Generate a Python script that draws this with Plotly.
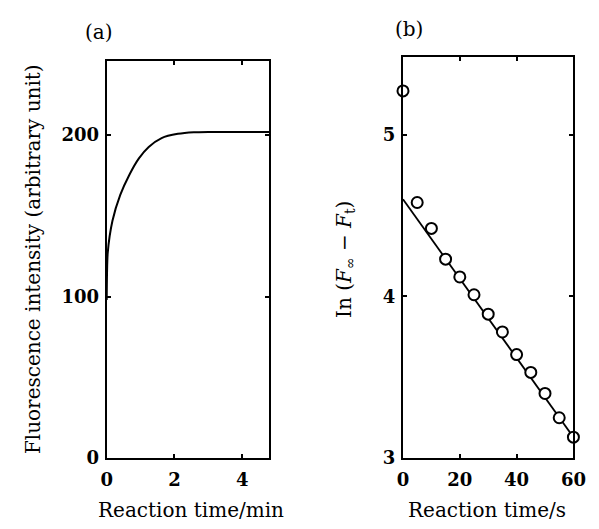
import plotly.graph_objects as go

# Panel (a): fluorescence intensity vs reaction time (min)
time_min = [0.0, 0.03, 0.17, 0.4, 0.67, 0.95, 1.24, 1.62, 2.1, 2.57, 3.0, 4.0, 4.8]
intensity = [98, 127, 147, 163, 175.5, 185.6, 192.7, 198.2, 200.8, 201.8, 202, 202, 202]

# Panel (b): ln(F_inf - F_t) vs reaction time (s)
time_s = [0, 5, 10, 15, 20, 25, 30, 35, 40, 45, 50, 55, 60]
ln_diff = [5.27, 4.58, 4.42, 4.23, 4.12, 4.01, 3.89, 3.78, 3.64, 3.53, 3.40, 3.25, 3.13]
fit_x = [0, 60]
fit_y = [4.60, 3.13]

a_xticks = [0, 2, 4]
a_yticks = [0, 100, 200]
b_xticks = [0, 20, 40, 60]
b_yticks = [3, 4, 5]

FONT = "DejaVu Serif"
H = 529
W = 599

fig = go.Figure()
fig.add_trace(go.Scatter(x=time_min, y=intensity, mode="lines", line=dict(color="black", width=2, shape="spline", smoothing=0.6),
                         xaxis="x", yaxis="y", showlegend=False))
fig.add_trace(go.Scatter(x=fit_x, y=fit_y, mode="lines", line=dict(color="black", width=1.8),
                         xaxis="x2", yaxis="y2", showlegend=False))
fig.add_trace(go.Scatter(x=time_s, y=ln_diff, mode="markers", cliponaxis=False,
                         marker=dict(symbol="circle", size=11, color="white", line=dict(color="black", width=2)),
                         xaxis="x2", yaxis="y2", showlegend=False))

axis_common = dict(showline=True, linecolor="black", linewidth=2, mirror="ticks", ticks="inside",
                   ticklen=4, tickwidth=1.5, tickcolor="black", showgrid=False, zeroline=False,
                   tickfont=dict(family=FONT, size=18, color="black", weight="bold"))

fig.update_layout(
    width=W, height=H,
    margin=dict(l=0, r=0, t=0, b=0),
    paper_bgcolor="white", plot_bgcolor="white",
    xaxis=dict(domain=[104/W, 272/W], range=[0, 4.8], tickvals=a_xticks, anchor="y",
               ticklabelstandoff=4, **axis_common),
    yaxis=dict(domain=[(H-467)/H, (H-62)/H], range=[0, 246], tickvals=a_yticks, anchor="x",
               ticklabelstandoff=2, **axis_common),
    xaxis2=dict(domain=[410/W, 586/W], range=[0, 60], tickvals=b_xticks, anchor="y2",
                ticklabelstandoff=4, **axis_common),
    yaxis2=dict(domain=[(H-467)/H, (H-58)/H], range=[3, 5.48], tickvals=b_yticks, anchor="x2",
                ticklabelstandoff=2, **axis_common),
)

title_font = dict(family=FONT, size=20, color="black")
annos = [
    dict(text="(a)", x=96/W, y=(H-33)/H, font=dict(family=FONT, size=20, color="black")),
    dict(text="(b)", x=416/W, y=(H-30)/H, font=dict(family=FONT, size=20, color="black")),
    dict(text="Fluorescence intensity (arbitrary unit)", x=28/W, y=(H-264)/H, textangle=-90, font=title_font),
    dict(text="Reaction time/min", x=191/W, y=(H-520)/H, font=title_font),
    dict(text="In (<i>F</i><sub>∞</sub> − <i>F</i><sub>t</sub>)", x=350/W, y=(H-264)/H, textangle=-90, font=title_font),
    dict(text="Reaction time/s", x=497/W, y=(H-520)/H, font=title_font),
]
for a in annos:
    fig.add_annotation(xref="paper", yref="paper", showarrow=False, xanchor="center", yanchor="middle", **a)

fig.write_html("out.html", config={"displayModeBar": False},
               post_script="document.body.style.margin='0';document.body.style.overflow='hidden';")
